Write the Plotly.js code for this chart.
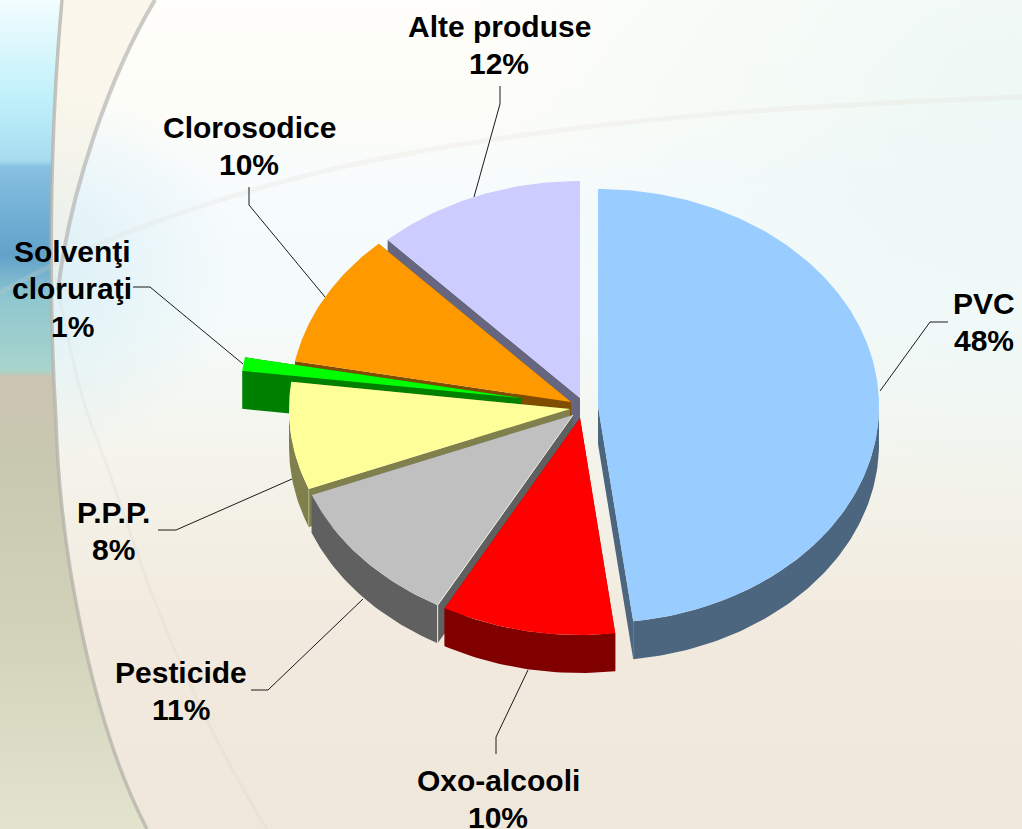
<!DOCTYPE html>
<html>
<head>
<meta charset="utf-8">
<script src="https://cdn.plot.ly/plotly-3.0.1.min.js"></script>
<style>
html,body{margin:0;padding:0;width:1022px;height:829px;overflow:hidden;background:#fff}
#band,#disc,#chart{position:absolute;left:0;top:0;width:1022px;height:829px}
#band{background:linear-gradient(to bottom,#f2fdff 0,#bff0fa 100px,#a8dcf0 160px,#86c0e2 167px,#62a2ca 255px,#90c8d0 300px,#a8d4cc 370px,#cbc4b2 377px,#c8c8b0 460px,#d4d4bc 650px,#e2e4ce 829px)}
#disc{
  clip-path:path('M62,0 C50,130 48,290 56,420 C60,560 95,730 147,829 L1022,829 L1022,0 Z');
  background:
    radial-gradient(circle 190px at 45px 270px,rgba(178,222,238,.38),rgba(178,222,238,0)),
    radial-gradient(ellipse 560px 470px at 1022px 110px,rgba(232,246,244,.75),rgba(232,246,244,0)),
    linear-gradient(to bottom,#fffefa 0,#fdfdf8 110px,#f6fbfd 200px,#f5fbfa 330px,#f4f3ea 470px,#f2eade 620px,#f0e7db 829px);
}
</style>
</head>
<body>
<div id="band"></div>
<div id="disc"></div>
<div id="chart"></div>
<script>
// ---- data ----
const categories = ["PVC", "Oxo-alcooli", "Pesticide", "P.P.P.", "Solvenţi<br>cloruraţi", "Clorosodice", "Alte produse"];
const values = [48, 10, 11, 8, 1, 10, 12];
const topColors = ["#99CCFF", "#FF0000", "#C0C0C0", "#FFFF99", "#00FF00", "#FF9900", "#CCCCFF"];
const wallColors = ["#4D6680", "#800000", "#606060", "#80804D", "#008000", "#804D00", "#666680"];

// ---- layout of the exploded 3-D pie (pixel-valued axes) ----
const RX = 281, RY = 217, DEPTH = 38;
const originX = [598, 580, 573, 570, 521, 571, 580];
const originY = [406, 418, 415, 409, 398, 402, 398];
const labelX = [984, 498, 181, 113, 72, 249, 499];
const labelY = [303, 780, 672, 512, 251, 127, 26];
const LINE = 37.5, FONT = 30;
const leaders = [
  "M948,322 L930,322 L880,391",
  "M496,754 L496,737 L528,670",
  "M251,690 L268,690 L363,599",
  "M158,530 L176,530 L292,479",
  "M133,287 L150,287 L243,364",
  "M249,187 L249,205 L325,297",
  "M500,86 L500,104 L474,197"
];

const rad = d => d * Math.PI / 180;
const pt = (i, a) => [originX[i] + RX * Math.sin(rad(a)), originY[i] - RY * Math.cos(rad(a))];
const total = values.reduce((a, b) => a + b, 0);
let run = 0;
const spans = values.map(v => { const s = [run * 360 / total, (run + v) * 360 / total]; run += v; return s; });

function poly(points, color, name) {
  return {
    type: "scatter", mode: "lines", fill: "toself", fillcolor: color, name: name,
    x: points.map(p => p[0]), y: points.map(p => p[1]),
    line: {width: 0, color: color}, hoverinfo: "skip", showlegend: false
  };
}
function arc(i, a0, a1) {
  const out = [], n = Math.max(2, Math.ceil(Math.abs(a1 - a0)));
  for (let k = 0; k <= n; k++) out.push(pt(i, a0 + (a1 - a0) * k / n));
  return out;
}
const down = p => [p[0], p[1] + DEPTH];

const traces = [];
[6, 5, 4, 3, 2, 1, 0].forEach(i => {
  const [a0, a1] = spans[i];
  const apex = [originX[i], originY[i]];
  // cut faces
  [a0, a1].forEach(a => {
    const e = pt(i, a);
    traces.push(poly([apex, e, down(e), down(apex), apex], wallColors[i], categories[i] + " cut"));
  });
  // rim
  const r0 = Math.max(a0, 90), r1 = Math.min(a1, 270);
  if (r1 > r0) {
    const rim = arc(i, r0, r1);
    traces.push(poly(rim.concat(rim.slice().reverse().map(down), [rim[0]]), wallColors[i], categories[i] + " rim"));
  }
  // top face
  traces.push(poly([apex].concat(arc(i, a0, a1), [apex]), topColors[i], categories[i]));
  // pale seams at the front corners
  if (i === 2 || i === 3) {
    const e = pt(i, a0);
    const seamX = i === 2 ? [apex[0], e[0], e[0]] : [e[0], e[0]];
    const seamY = i === 2 ? [apex[1], e[1], e[1] + DEPTH] : [e[1], e[1] + DEPTH];
    traces.push({type: "scatter", mode: "lines", x: seamX, y: seamY,
      line: {width: 1, color: i === 2 ? "#eeeee4" : "#b0b080"}, hoverinfo: "skip", showlegend: false});
  }
});

const annotations = [];
categories.forEach((c, i) => {
  const lines = c.split("<br>").concat([values[i] + "%"]);
  lines.forEach((t, k) => annotations.push({
    x: labelX[i], y: labelY[i] + k * LINE, xref: "x", yref: "y", text: t, showarrow: false,
    xanchor: "center", yanchor: "middle",
    font: {family: "Liberation Sans, Arial, sans-serif", size: FONT, weight: 700, color: "#000"}
  }));
});

const bgLine = (path, color, width) => ({type: "path", path, layer: "below", line: {color, width}});
const shapes = [
  {type: "path", layer: "below", path: "M62,0 C52,100 50,200 57,290 C70,190 110,75 155,0 Z", fillcolor: "rgba(248,240,222,.5)", line: {width: 0}},
  bgLine("M0,293 C90,240 240,185 400,155 C600,118 800,105 1022,97", "rgba(225,215,205,.2)", 5),
  bgLine("M58,290 C70,350 80,400 100,447 C120,500 140,565 157,607 C190,690 230,770 267,829", "rgba(190,175,160,.1)", 3),
  bgLine("M155,0 C110,75 70,190 58,290", "rgba(170,170,170,.6)", 4),
  bgLine("M62,0 C50,130 48,290 56,420 C60,560 95,730 147,829", "rgba(180,178,170,.75)", 3.5)
].concat(leaders.map(p => ({type: "path", path: p, layer: "above", line: {color: "#1a1a1a", width: 1}})));

Plotly.newPlot("chart", traces, {
  width: 1022, height: 829,
  margin: {l: 0, r: 0, t: 0, b: 0},
  paper_bgcolor: "rgba(0,0,0,0)", plot_bgcolor: "rgba(0,0,0,0)",
  xaxis: {range: [0, 1022], visible: false, fixedrange: true},
  yaxis: {range: [829, 0], visible: false, fixedrange: true},
  showlegend: false, annotations, shapes
}, {displayModeBar: false, staticPlot: true});
</script>
</body>
</html>
